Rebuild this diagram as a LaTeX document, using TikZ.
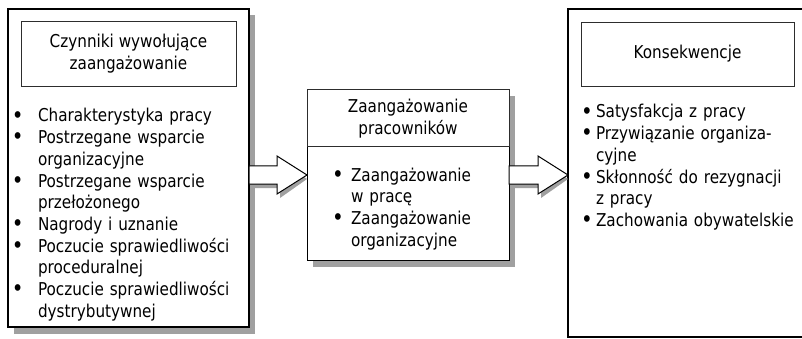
\documentclass[tikz,border=0pt]{standalone}
\usepackage{fontspec}
\setmainfont{DejaVu Sans}[FakeStretch=0.86]
\usetikzlibrary{calc,shadows}

\definecolor{shadowgray}{RGB}{160,160,160}
\definecolor{edgegray}{RGB}{45,45,45}

% bullet with a fixed hanging indent, and the matching indent for wrapped lines
\newcommand\bul[1]{\makebox[#1][l]{\raisebox{-0.07em}{\scalebox{1.3}{\textbullet}}}}
\newcommand\ind[1]{\hspace*{#1}}

% block arrow from a start point to a tip: #1 style, #2 start, #3 tip, #4/#5 offset
\newcommand\blockarrow[5]{%
  \path[#1] let \p1=(#2), \p2=(#3) in
    (\x1+#4,\y2+9pt-#5) -- (\x2-30pt+#4,\y2+9pt-#5) -- (\x2-30pt+#4,\y2+19pt-#5)
    -- (\x2,\y2-#5) -- (\x2-30pt+#4,\y2-19pt-#5) -- (\x2-30pt+#4,\y2-9pt-#5)
    -- (\x1+#4,\y2-9pt-#5) -- cycle;}

\begin{document}
\begin{tikzpicture}[x=1pt,y=-1pt,
  every node/.style={inner sep=0pt, outer sep=0pt, font=\fontsize{17.7}{21.7}\selectfont},
  outerbox/.style={draw=black, line width=1.2pt, fill=white, rectangle, anchor=north west},
  boxshadow/.style={general shadow={fill=shadowgray, shadow xshift=6pt, shadow yshift=-6.5pt}},
  titlebox/.style={draw=edgegray, line width=0.9pt, fill=white, rectangle, anchor=north west, align=center},
  itemlist/.style={anchor=base west, align=left, text width=#1},
  arrowshade/.style={fill=shadowgray},
  arrowbody/.style={fill=white, draw=black, line width=1pt, line join=miter},
]
\useasboundingbox (0,0) rectangle (802,339);
\clip (0,0) rectangle (802,339);

% antecedents
\node[outerbox, boxshadow, minimum width=241pt, minimum height=318pt] (src) at (8,9) {};
\node[titlebox, minimum width=215pt, minimum height=65pt] (srctitle) at (21,21)
  {Czynniki wywołujące\\zaangażowanie};
\node[itemlist=235pt] (srclist) at (12,122) {%
  \bul{26pt}Charakterystyka pracy\\
  \bul{26pt}Postrzegane wsparcie\\
  \ind{26pt}organizacyjne\\
  \bul{26pt}Postrzegane wsparcie\\
  \ind{26pt}przełożonego\\
  \bul{26pt}Nagrody i uznanie\\
  \bul{26pt}Poczucie sprawiedliwości\\
  \ind{26pt}proceduralnej\\
  \bul{26pt}Poczucie sprawiedliwości\\
  \ind{26pt}dystrybutywnej};

% engagement
\node[outerbox, boxshadow, line width=1pt, minimum width=202pt, minimum height=170pt] (mid) at (307,90) {};
\node[titlebox, line width=1pt, minimum width=202pt, minimum height=57pt] (midtitle) at (307,90)
  {Zaangażowanie\\pracowników};
\node[itemlist=175pt] (midlist) at (332,181) {%
  \bul{19pt}Zaangażowanie\\
  \ind{19pt}w pracę\\
  \bul{19pt}Zaangażowanie\\
  \ind{19pt}organizacyjne};

\blockarrow{arrowshade}{src.east |- mid.west}{mid.west}{3pt}{4pt}
\blockarrow{arrowbody}{src.east |- mid.west}{mid.west}{0pt}{0pt}

% consequences
\node[outerbox, minimum width=260pt, minimum height=328pt] (dst) at (568,9) {};
\node[titlebox, minimum width=213pt, minimum height=64pt] (dsttitle) at (581,22) {Konsekwencje};
\node[itemlist=230pt] (dstlist) at (581,118) {%
  \bul{15pt}Satysfakcja z pracy\\
  \bul{15pt}Przywiązanie organiza-\\
  \ind{15pt}cyjne\\
  \bul{15pt}Skłonność do rezygnacji\\
  \ind{15pt}z pracy\\
  \bul{15pt}Zachowania obywatelskie};

\blockarrow{arrowshade}{mid.east}{dst.west |- mid.east}{3pt}{4pt}
\blockarrow{arrowbody}{mid.east}{dst.west |- mid.east}{0pt}{0pt}
\end{tikzpicture}
\end{document}
